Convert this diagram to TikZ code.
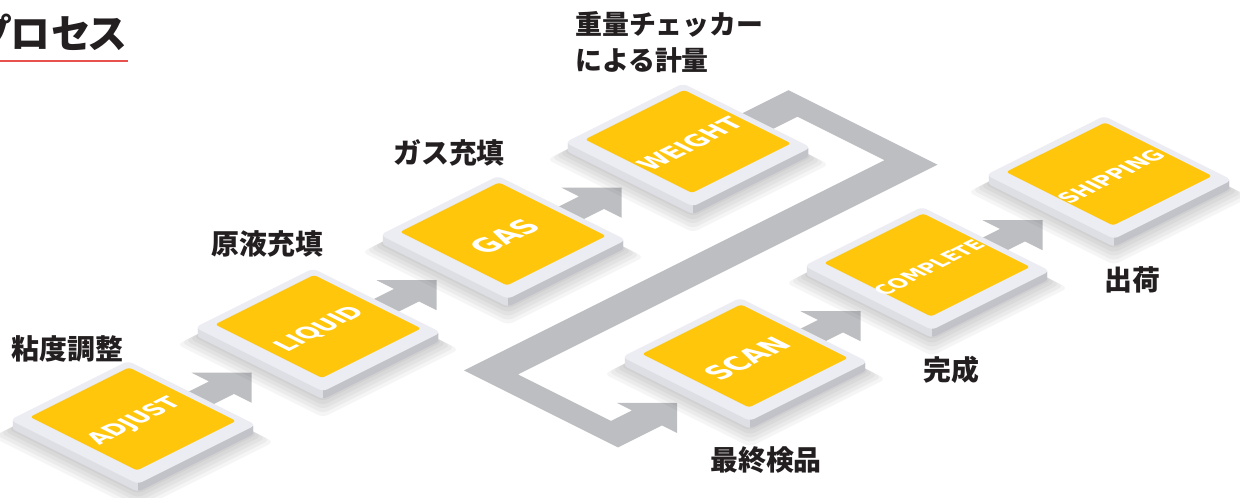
\documentclass[tikz,border=0pt]{standalone}
\usepackage{fontspec}
\newfontfamily\jpfont{Noto Sans CJK JP}
\newfontfamily\jptitlefont{Noto Sans CJK JP}[RawFeature=+palt]
\newfontfamily\tilefont{DejaVu Sans}[BoldFont={DejaVu Sans Bold}]
\usetikzlibrary{calc}
\definecolor{tileyellow}{HTML}{FFC60B}
\definecolor{tiletop}{HTML}{ECECF3}
\definecolor{tileleft}{HTML}{DEDEE5}
\definecolor{tileright}{HTML}{C2C2C9}
\definecolor{flowgray}{HTML}{BDBEC1}
\definecolor{labelink}{HTML}{231F20}
\definecolor{titlered}{HTML}{E8524E}
\tikzset{
  iso/.style={x={(1bp,0.5bp)}, y={(1bp,-0.5bp)}},
  flow/.style={fill=flowgray, draw=none},
  jplabel/.style={font=\jpfont\bfseries\fontsize{28}{36}\selectfont, text=labelink, inner sep=0pt},
  jpsmall/.style={font=\jpfont\bfseries\fontsize{27}{36}\selectfont, text=labelink, inner sep=0pt},
  tiletext/.style={text=white, inner sep=0pt, transform shape},
}
% small arrow between two tiles of a row
\newcommand\isoarrow[2]{%
  \fill[flow] ($(#1)+(0,-3)$) -- ($(#2)+(-106,-3)$) -- ($(#2)+(-106,-20.5)$)
    -- ($(#2)+(-76,9.5)$) -- ($(#2)+(-106,39.5)$) -- ($(#2)+(-106,22)$)
    -- ($(#1)+(0,22)$) -- cycle;}
% one tile
\newcommand\drawtile[3]{%
  \foreach \d/\e in {9/1,11/3,13/5,15/7,17/9}{
    \fill[black, fill opacity=0.04, rounded corners=6bp]
      ($(#1)+({-59-\e-\d},{-64-\e+\d})$) -- ($(#1)+({59+\e-\d},{-64-\e+\d})$)
      -- ($(#1)+({59+\e-\d},{64+\e+\d})$) -- ($(#1)+({-59-\e-\d},{64+\e+\d})$) -- cycle;
  }
  \foreach \d in {1,...,8}{
    \fill[tileleft, rounded corners=5bp]
      ($(#1)+({-59-\d},{-64+\d})$) -- ($(#1)+({59-\d},{-64+\d})$)
      -- ($(#1)+({59-\d},{64+\d})$) -- ($(#1)+({-59-\d},{64+\d})$) -- cycle;
  }
  \begin{scope}
    \clip ($(#1)+(141,-136)$) -- ($(#1)+(341,64)$) -- ($(#1)+(-59,464)$) -- ($(#1)+(-259,264)$) -- cycle;
    \foreach \d in {1,...,8}{
      \fill[tileright, rounded corners=5bp]
        ($(#1)+({-59-\d},{-64+\d})$) -- ($(#1)+({59-\d},{-64+\d})$)
        -- ($(#1)+({59-\d},{64+\d})$) -- ($(#1)+({-59-\d},{64+\d})$) -- cycle;
    }
  \end{scope}
  \fill[tiletop, rounded corners=5bp]
    ($(#1)+(-59,-64)$) -- ($(#1)+(59,-64)$) -- ($(#1)+(59,64)$) -- ($(#1)+(-59,64)$) -- cycle;
  \fill[tileyellow, rounded corners=3bp]
    ($(#1)+(-46,-57)$) -- ($(#1)+(53,-57)$) -- ($(#1)+(53,50)$) -- ($(#1)+(-46,50)$) -- cycle;
  \begin{scope}[shift={($(#1)+(2,0)$)}, cm={1,0.5,-1.12,0.56,(0,0)}]
    \node[tiletext, font=\tilefont\bfseries\fontsize{#2}{#2}\selectfont] (#1-text) at (0,0) {#3};
  \end{scope}
}
\begin{document}
\begin{tikzpicture}[x=1bp, y=-1bp]
\useasboundingbox (0,0) rectangle (1240,498);
\clip (0,0) rectangle (1240,498);
\begin{scope}[iso]
  \coordinate (adjust)   at (-356,489);
  \coordinate (liquid)   at (-171,489);
  \coordinate (gas)      at (14,489);
  \coordinate (weight)   at (199,489);
  \coordinate (scan)     at (13,732);
  \coordinate (complete) at (195,732);
  \coordinate (shipping) at (377,732);
  % return connector from WEIGHT to SCAN
  \fill[flow] ($(weight)+(0,-4.5)$) -- ($(weight)+(105,-4.5)$) -- ($(weight)+(105,144.5)$)
    -- ($(scan)+(-128.5,-98.5)$) -- ($(scan)+(-128.5,-5.5)$) -- ($(scan)+(-107.5,-5.5)$)
    -- ($(scan)+(-107.5,-20.5)$) -- ($(scan)+(-77.5,9.5)$) -- ($(scan)+(-107.5,39.5)$)
    -- ($(scan)+(-107.5,24.5)$) -- ($(scan)+(-151.5,24.5)$) -- ($(scan)+(-151.5,-129.5)$)
    -- ($(weight)+(83,113.5)$) -- ($(weight)+(83,26.5)$) -- ($(weight)+(0,26.5)$) -- cycle;
  \isoarrow{adjust}{liquid}
  \isoarrow{liquid}{gas}
  \isoarrow{gas}{weight}
  \isoarrow{scan}{complete}
  \isoarrow{complete}{shipping}
  \drawtile{weight}{21}{WEIGHT}
  \drawtile{gas}{24.5}{GAS}
  \drawtile{liquid}{20.5}{LIQUID}
  \drawtile{adjust}{20}{ADJUST}
  \drawtile{shipping}{18}{SHIPPING}
  \drawtile{complete}{17}{COMPLETE}
  \drawtile{scan}{24}{SCAN}
\end{scope}
\node[font=\jptitlefont\bfseries\fontsize{40}{40}\selectfont, text=labelink, anchor=east, inner sep=0pt] (title) at (127,33) {プロセス};
\draw[titlered, line width=2.2bp] (0,61) -- (128,61);
\node[jplabel] (lbl-adjust) at (67.5,348.5) {粘度調整};
\node[jplabel] (lbl-liquid) at (267.5,243.5) {原液充填};
\node[jplabel] (lbl-gas) at (449,152.5) {ガス充填};
\node[jpsmall, anchor=west] (lbl-weight1) at (575,24) {重量チェッカー};
\node[jpsmall, anchor=west] (lbl-weight2) at (575,60) {による計量};
\node[jplabel] (lbl-scan) at (766,460) {最終検品};
\node[jplabel] (lbl-complete) at (951.5,370) {完成};
\node[jplabel] (lbl-shipping) at (1132,279.5) {出荷};
\end{tikzpicture}
\end{document}
